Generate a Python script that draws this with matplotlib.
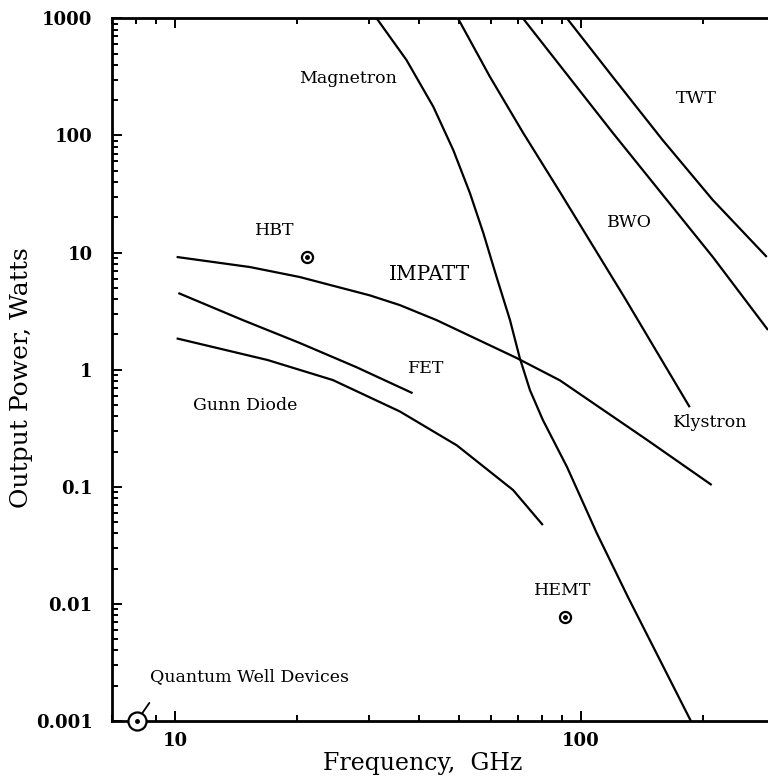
import matplotlib.pyplot as plt
from matplotlib.ticker import LogLocator, NullFormatter, FixedLocator, FixedFormatter

plt.rcParams['font.family'] = ['DejaVu Serif']

# frequency (GHz) / power (W)
magnetron_f = [31.4, 37.2, 43.3, 48.5, 53.3, 57.5, 62.0, 66.9, 70.7, 74.9, 80.6, 92.4, 109.5, 130.5, 186.6]
magnetron_p = [1000, 440, 176, 75.0, 32.2, 14.7, 6.18, 2.65, 1.26, 0.67, 0.372, 0.148, 0.040, 0.0115, 0.001]

klystron_f = [49.8, 59.7, 72.1, 88.8, 128.3, 185.4]
klystron_p = [1000, 317, 105, 32.9, 4.09, 0.478]

bwo_f = [72.0, 119.9, 211.3, 289]
bwo_p = [1000, 105, 9.17, 2.18]

twt_f = [92.4, 119.9, 159, 211.3, 287]
twt_p = [1000, 315, 91.3, 28.1, 9.17]

impatt_f = [10.1, 15.3, 20.3, 30.2, 35.8, 44.1, 69.4, 88.8, 145.6, 210]
impatt_p = [9.17, 7.52, 6.18, 4.31, 3.56, 2.65, 1.26, 0.81, 0.251, 0.1035]

fet_f = [10.2, 14.7, 20.3, 28.0, 38.5]
fet_p = [4.51, 2.65, 1.69, 1.05, 0.63]

gunn_f = [10.1, 16.9, 24.5, 35.8, 49.5, 68.1, 80.6]
gunn_p = [1.85, 1.21, 0.815, 0.44, 0.2256, 0.0937, 0.0471]

# single devices
hbt = (21.1, 9.17)
hemt = (91.4, 0.0078)
qwd = (8.06, 0.001)

labels = ['Magnetron', 'TWT', 'BWO', 'HBT', 'IMPATT', 'FET', 'Gunn Diode', 'Klystron', 'HEMT']
label_f = [26.7, 193, 132, 17.6, 42.5, 41.5, 14.9, 208, 90.4]
label_p = [309, 208, 17.9, 15.5, 6.54, 1.03, 0.49, 0.356, 0.0131]

ytick_vals = [0.001, 0.01, 0.1, 1, 10, 100, 1000]
ytick_text = ['0.001', '0.01', '0.1', '1', '10', '100', '1000']
xtick_vals = [10, 100]
xtick_text = ['10', '100']

fig = plt.figure(figsize=(7.68, 7.83), dpi=100)
ax = fig.add_axes([0.1458, 0.0792, 0.8542, 0.8974])
ax.set_xscale('log')
ax.set_yscale('log')
ax.set_xlim(7.0, 289)
ax.set_ylim(0.001, 1000)

lw = 1.6
for f, p in [(magnetron_f, magnetron_p), (klystron_f, klystron_p), (bwo_f, bwo_p),
             (twt_f, twt_p), (impatt_f, impatt_p), (fet_f, fet_p), (gunn_f, gunn_p)]:
    ax.plot(f, p, color='black', lw=lw, solid_capstyle='butt', solid_joinstyle='round')

# device markers
for (f, p), ms in [(hbt, 8), (hemt, 8), (qwd, 13)]:
    ax.plot(f, p, 'o', ms=ms, mfc='white', mec='black', mew=1.6, clip_on=False, zorder=5)
    ax.plot(f, p, 'o', ms=2.5, color='black', clip_on=False, zorder=6)

ax.annotate('', xy=qwd, xytext=(9, 13), textcoords='offset points',
            arrowprops=dict(arrowstyle='-', lw=1.3, color='black', shrinkA=0, shrinkB=5.5))
ax.text(8.7, 0.00237, 'Quantum Well Devices', fontsize=12.5, ha='left', va='center')

for name, f, p in zip(labels, label_f, label_p):
    size = 14.5 if name == 'IMPATT' else 12.5
    ax.text(f, p, name, fontsize=size, ha='center', va='center')

ax.xaxis.set_major_locator(FixedLocator(xtick_vals))
ax.xaxis.set_major_formatter(FixedFormatter(xtick_text))
ax.xaxis.set_minor_locator(LogLocator(base=10, subs=range(2, 10)))
ax.xaxis.set_minor_formatter(NullFormatter())
ax.yaxis.set_major_locator(FixedLocator(ytick_vals))
ax.yaxis.set_major_formatter(FixedFormatter(ytick_text))
ax.yaxis.set_minor_locator(LogLocator(base=10, subs=range(2, 10), numticks=20))
ax.yaxis.set_minor_formatter(NullFormatter())

ax.tick_params(which='both', direction='in', top=True, right=False, width=1.4)
ax.tick_params(which='major', length=7)
ax.tick_params(which='minor', length=4.5)
ax.tick_params(axis='y', which='major', pad=14, labelsize=13)
ax.tick_params(axis='x', which='major', pad=8, labelsize=13)
for lab in ax.get_xticklabels() + ax.get_yticklabels():
    lab.set_fontweight('bold')

for side in ['left', 'bottom', 'top']:
    ax.spines[side].set_linewidth(2)
ax.spines['right'].set_visible(False)

ax.set_ylabel('Output Power, Watts', fontsize=18)
ax.set_xlabel('Frequency,  GHz', fontsize=17)
ax.yaxis.set_label_coords(-0.121, 0.489)
ax.xaxis.set_label_coords(0.474, -0.044)

fig.savefig('out.png', dpi=100)
